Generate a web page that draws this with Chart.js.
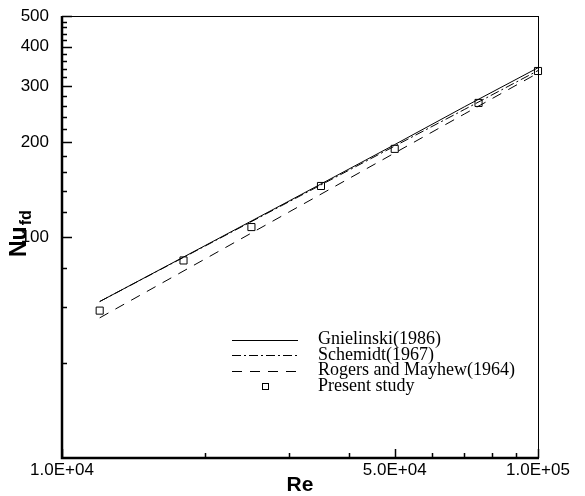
<!DOCTYPE html>
<html><head><meta charset="utf-8">
<script src="https://cdn.jsdelivr.net/npm/chart.js@4/dist/chart.umd.min.js"></script>
<style>html,body{margin:0;padding:0;background:#fff}#wrap{width:585px;height:496px;position:relative}</style>
</head><body><div id="wrap"><canvas id="c" width="585" height="496"></canvas></div>
<script>
const reynolds = [12000, 20000, 30000, 50000, 70000, 100000];
const gnielinski = [62.5, 94, 130, 196, 258, 343];
const schemidt = [62.5, 93.7, 129.3, 193.9, 253, 336];
const rogersMayhew = [55.5, 85.3, 120, 184.4, 244.8, 330];
const studyRe = [12000, 18000, 25000, 35000, 50000, 75000, 100000];
const studyNu = [58.5, 84.3, 107.5, 145, 190, 265.5, 335];
const xMajorTicks = [10000, 50000, 100000];
const xMinorTicks = [20000, 30000, 40000, 60000, 70000, 80000, 90000];
const yMajorTicks = [100, 200, 300, 400, 500];
const yMinorTicks = [40, 60, 80, 120, 140, 160, 180, 220, 240, 260, 280, 320, 340, 360, 380, 420, 440, 460, 480];
const xTickLabels = ['1.0E+04', '5.0E+04', '1.0E+05'];
const yTickLabels = ['100', '200', '300', '400', '500'];
const seriesNames = ['Gnielinski(1986)', 'Schemidt(1967)', 'Rogers and Mayhew(1964)', 'Present study'];

const toXY = (xs, ys) => xs.map((x, i) => ({x: x, y: ys[i]}));
const SANS = '"Liberation Sans", Arial, sans-serif';
const SERIF = '"Liberation Serif", "Times New Roman", serif';

const frameAndTicks = {
  id: 'frameAndTicks',
  afterDraw(chart) {
    const ctx = chart.ctx, a = chart.chartArea;
    const xs = chart.scales.x, ys = chart.scales.y;
    ctx.save();
    ctx.strokeStyle = '#000';
    ctx.lineWidth = 1;
    ctx.beginPath();
    ctx.moveTo(a.left, a.top + 0.5); ctx.lineTo(a.right, a.top + 0.5);
    ctx.moveTo(a.right + 0.5, a.top); ctx.lineTo(a.right + 0.5, a.bottom);
    ctx.stroke();
    ctx.lineWidth = 1.5;
    ctx.beginPath();
    yMajorTicks.forEach(v => { const p = Math.round(ys.getPixelForValue(v)) + 0.5; ctx.moveTo(a.left, p); ctx.lineTo(a.left + 10, p); });
    yMinorTicks.forEach(v => { const p = Math.round(ys.getPixelForValue(v)) + 0.5; ctx.moveTo(a.left, p); ctx.lineTo(a.left + 5, p); });
    xMajorTicks.forEach(v => { const p = Math.round(xs.getPixelForValue(v)) + 0.5; ctx.moveTo(p, a.bottom); ctx.lineTo(p, a.bottom - 9); });
    xMinorTicks.forEach(v => { const p = Math.round(xs.getPixelForValue(v)) + 0.5; ctx.moveTo(p, a.bottom); ctx.lineTo(p, a.bottom - 5); });
    ctx.stroke();
    ctx.lineWidth = 2.5;
    ctx.beginPath();
    ctx.moveTo(a.left, a.top); ctx.lineTo(a.left, a.bottom); ctx.lineTo(a.right + 1, a.bottom);
    ctx.stroke();
    ctx.fillStyle = '#000';
    ctx.translate(26, 257);
    ctx.rotate(-Math.PI / 2);
    ctx.textBaseline = 'alphabetic';
    ctx.textAlign = 'left';
    ctx.font = 'bold 23px ' + SANS;
    ctx.fillText('Nu', 0, 0);
    const w = ctx.measureText('Nu').width;
    ctx.font = 'bold 16px ' + SANS;
    ctx.fillText('fd', w + 1, 5);
    ctx.restore();
  }
};

const legendBox = {
  id: 'legendBox',
  afterDraw(chart) {
    const ctx = chart.ctx;
    ctx.save();
    const rows = [339.5, 355, 370.5, 386];
    const x0 = 232, x1 = 298, tx = 318;
    chart.data.datasets.forEach((ds, i) => {
      const y = rows[i];
      ctx.strokeStyle = '#000';
      ctx.lineWidth = 1.2;
      if (i < 3) {
        ctx.setLineDash(ds.borderDash || []);
        ctx.beginPath(); ctx.moveTo(x0, Math.round(y) + 0.5); ctx.lineTo(x1, Math.round(y) + 0.5); ctx.stroke();
        ctx.setLineDash([]);
      } else {
        ctx.lineWidth = 1;
        ctx.strokeRect(Math.round((x0 + x1) / 2) - 2.5, Math.round(y) - 2.5, 6, 6);
      }
      ctx.fillStyle = '#000';
      ctx.font = '18px ' + SERIF;
      ctx.textBaseline = 'middle';
      ctx.textAlign = 'left';
      ctx.fillText(seriesNames[i], tx, y);
    });
    ctx.restore();
  }
};

new Chart(document.getElementById('c'), {
  type: 'line',
  data: {
    datasets: [
      {label: seriesNames[0], data: toXY(reynolds, gnielinski), borderColor: '#000', borderWidth: 1, pointRadius: 0, fill: false},
      {label: seriesNames[1], data: toXY(reynolds, schemidt), borderColor: '#000', borderWidth: 1, borderDash: [9, 3, 2, 3], pointRadius: 0, fill: false},
      {label: seriesNames[2], data: toXY(reynolds, rogersMayhew), borderColor: '#000', borderWidth: 1, borderDash: [10, 8], pointRadius: 0, fill: false},
      {label: seriesNames[3], data: toXY(studyRe, studyNu), showLine: false, pointStyle: 'rect', pointRadius: 5, pointBorderWidth: 1, pointBorderColor: '#000', pointBackgroundColor: 'rgba(0,0,0,0)', borderColor: '#000', clip: false}
    ]
  },
  options: {
    responsive: false,
    animation: false,
    devicePixelRatio: 1,
    layout: {padding: {left: 0, right: 47, top: 16, bottom: 0}},
    plugins: {legend: {display: false}, tooltip: {enabled: false}},
    scales: {
      x: {
        type: 'logarithmic', min: 10000, max: 100000,
        grid: {display: false}, border: {display: false},
        afterBuildTicks: s => { s.ticks = xMajorTicks.map(v => ({value: v})); },
        afterFit: s => { s.height = 38; },
        ticks: {autoSkip: false, maxRotation: 0, padding: -6, color: '#000', font: {family: SANS, size: 17},
          callback: v => { const i = xMajorTicks.indexOf(v); return i >= 0 ? xTickLabels[i] : ''; }},
        title: {display: true, text: 'Re', color: '#000', font: {family: SANS, size: 21, weight: 'bold'}, padding: {top: 0, bottom: -2}}
      },
      y: {
        type: 'logarithmic', min: 20, max: 500,
        grid: {display: false}, border: {display: false},
        afterBuildTicks: s => { s.ticks = yMajorTicks.map(v => ({value: v})); },
        afterFit: s => { s.width = 62; },
        ticks: {autoSkip: false, padding: 5, color: '#000', font: {family: SANS, size: 17},
          callback: v => { const i = yMajorTicks.indexOf(v); return i >= 0 ? yTickLabels[i] : ''; }}
      }
    }
  },
  plugins: [frameAndTicks, legendBox]
});
</script>
</body></html>
